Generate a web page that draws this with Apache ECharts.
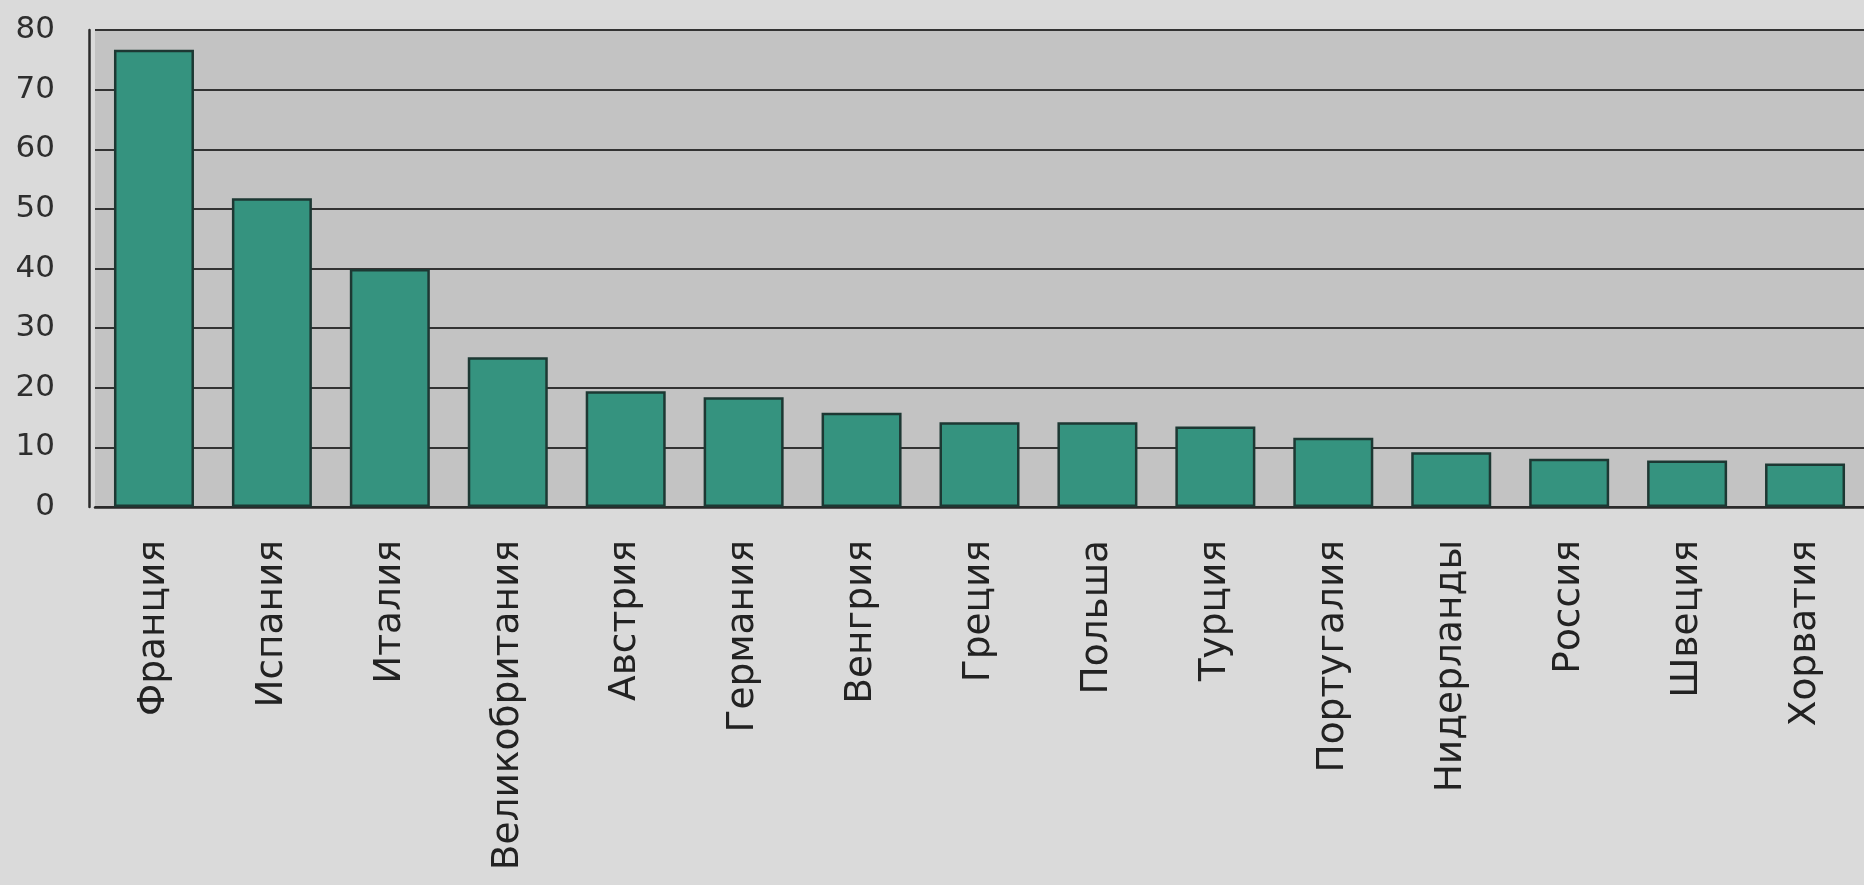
<!DOCTYPE html>
<html>
<head>
<meta charset="utf-8">
<script src="https://cdn.jsdelivr.net/npm/echarts@6/dist/echarts.min.js"></script>
<style>
html,body{margin:0;padding:0;background:#dadada;}
#chart{width:1864px;height:885px;}
</style>
</head>
<body>
<div id="chart"></div>
<script>
const categories = ['Франция','Испания','Италия','Великобритания','Австрия','Германия','Венгрия','Греция','Польша','Турция','Португалия','Нидерланды','Россия','Швеция','Хорватия'];
const values = [76.7, 51.8, 39.9, 25.1, 19.4, 18.4, 15.8, 14.2, 14.2, 13.5, 11.6, 9.2, 8.1, 7.8, 7.3];
const yTicks = [0, 10, 20, 30, 40, 50, 60, 70, 80];

const chart = echarts.init(document.getElementById('chart'));
chart.setOption({
  backgroundColor: '#dadada',
  animation: false,
  grid: {
    left: 95, right: 0, top: 30, bottom: 378,
    show: true, backgroundColor: '#c3c3c3', borderWidth: 0
  },
  xAxis: {
    type: 'category',
    data: categories,
    boundaryGap: true,
    axisLine: { show: true, lineStyle: { color: '#2a2a2a', width: 2.5 } },
    axisTick: { show: false },
    axisLabel: {
      rotate: 90, margin: 33, interval: 0,
      fontFamily: 'DejaVu Sans', fontSize: 37.5, color: '#222222'
    }
  },
  yAxis: {
    type: 'value',
    min: yTicks[0], max: yTicks[yTicks.length - 1], interval: 10,
    offset: 6,
    axisLine: { show: true, lineStyle: { color: '#2a2a2a', width: 2.5 } },
    axisTick: { show: false },
    splitLine: { show: true, lineStyle: { color: '#333333', width: 2 } },
    axisLabel: {
      margin: 34, fontFamily: 'DejaVu Sans', fontSize: 31, color: '#2e2e2e'
    }
  },
  series: [{
    type: 'bar',
    data: values,
    barWidth: 80,
    itemStyle: {
      color: '#35937f',
      borderColor: '#1d3833',
      borderWidth: 2.5
    }
  }]
});
</script>
</body>
</html>
